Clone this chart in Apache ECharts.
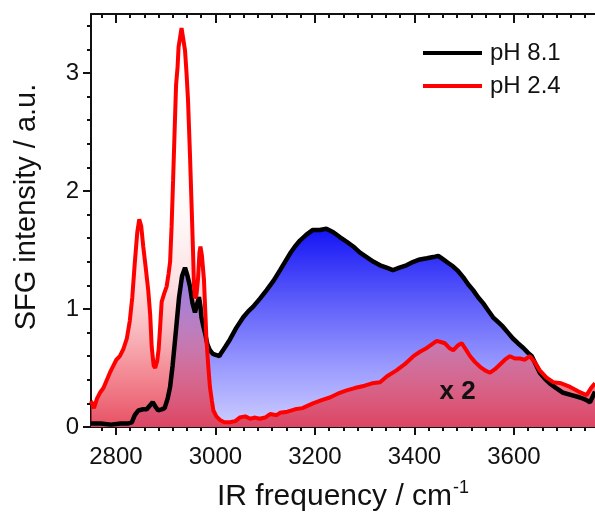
<!DOCTYPE html>
<html>
<head>
<meta charset="utf-8">
<script src="https://cdn.jsdelivr.net/npm/echarts@6/dist/echarts.min.js"></script>
<style>
html,body{margin:0;padding:0;background:#fff;}
#c{width:595px;height:513px;}
</style>
</head>
<body>
<div id="c"></div>
<script>
// ---- data ----
const seriesNames = ['pH 8.1', 'pH 2.4'];
const ph81 = [
[2750,0.03],[2770,0.03],[2790,0.02],[2810,0.03],[2825,0.03],[2832,0.04],[2838,0.10],[2845,0.14],
[2855,0.15],[2862,0.15],[2868,0.18],[2874,0.21],[2880,0.17],[2885,0.14],[2892,0.15],[2898,0.16],
[2904,0.24],[2909,0.34],[2914,0.52],[2919,0.74],[2923,0.92],[2927,1.10],[2933,1.28],[2939,1.35],
[2944,1.28],[2949,1.19],[2954,1.05],[2959,0.97],[2963,1.04],[2967,1.10],[2970,1.02],[2972,0.93],
[2976,0.85],[2979,0.80],[2984,0.70],[2989,0.65],[2995,0.62],[3002,0.61],[3008,0.60],[3012,0.63],
[3020,0.68],[3029,0.74],[3042,0.84],[3056,0.93],[3066,0.98],[3076,1.02],[3090,1.09],[3103,1.16],
[3117,1.24],[3130,1.33],[3140,1.40],[3150,1.47],[3160,1.53],[3170,1.58],[3183,1.63],[3196,1.67],
[3210,1.67],[3223,1.68],[3237,1.65],[3250,1.61],[3264,1.57],[3277,1.53],[3290,1.48],[3304,1.44],
[3318,1.40],[3331,1.37],[3344,1.35],[3357,1.33],[3370,1.35],[3384,1.37],[3398,1.40],[3411,1.42],
[3425,1.43],[3438,1.44],[3448,1.45],[3458,1.42],[3468,1.39],[3478,1.36],[3488,1.32],[3498,1.27],
[3508,1.21],[3518,1.16],[3528,1.10],[3538,1.05],[3548,0.99],[3558,0.93],[3568,0.89],[3578,0.85],
[3588,0.80],[3598,0.75],[3608,0.71],[3619,0.67],[3628,0.63],[3636,0.60],[3644,0.53],[3652,0.46],
[3662,0.41],[3672,0.37],[3685,0.33],[3699,0.29],[3716,0.27],[3733,0.25],[3745,0.23],[3753,0.21],
[3763,0.30]
];
const ph24 = [
[2750,0.22],[2756,0.16],[2762,0.24],[2768,0.29],[2775,0.33],[2782,0.40],[2788,0.46],[2795,0.52],
[2801,0.57],[2808,0.60],[2815,0.66],[2822,0.75],[2828,0.90],[2833,1.10],[2838,1.39],[2843,1.65],
[2847,1.76],[2851,1.70],[2855,1.53],[2860,1.35],[2865,1.16],[2869,0.95],[2872,0.68],[2876,0.52],
[2879,0.50],[2883,0.56],[2886,0.66],[2889,0.85],[2892,1.06],[2897,1.13],[2902,1.19],[2906,1.30],
[2909,1.40],[2912,1.70],[2915,2.09],[2918,2.50],[2921,2.90],[2924,3.05],[2926,3.22],[2929,3.30],
[2932,3.38],[2935,3.30],[2939,3.19],[2942,3.00],[2945,2.77],[2949,2.30],[2952,1.90],[2955,1.50],
[2957,1.20],[2959,1.09],[2962,1.12],[2965,1.25],[2968,1.48],[2970,1.53],[2973,1.45],[2977,1.25],
[2980,0.95],[2982,0.74],[2986,0.50],[2989,0.34],[2993,0.22],[2996,0.14],[3002,0.09],[3009,0.06],
[3018,0.04],[3029,0.04],[3040,0.05],[3049,0.08],[3060,0.09],[3070,0.07],[3080,0.08],[3089,0.07],
[3100,0.08],[3110,0.11],[3123,0.10],[3130,0.12],[3145,0.13],[3160,0.15],[3175,0.16],[3196,0.20],
[3215,0.23],[3230,0.25],[3250,0.29],[3264,0.31],[3280,0.33],[3300,0.35],[3315,0.37],[3331,0.38],
[3345,0.43],[3364,0.48],[3380,0.53],[3398,0.60],[3412,0.64],[3425,0.67],[3435,0.70],[3445,0.73],
[3453,0.72],[3461,0.71],[3470,0.67],[3478,0.65],[3487,0.69],[3495,0.71],[3503,0.66],[3512,0.60],
[3522,0.55],[3532,0.51],[3542,0.48],[3552,0.46],[3562,0.49],[3572,0.53],[3582,0.57],[3592,0.60],
[3602,0.58],[3612,0.58],[3622,0.57],[3632,0.60],[3642,0.55],[3652,0.48],[3665,0.42],[3679,0.38],
[3695,0.37],[3713,0.34],[3730,0.30],[3746,0.27],[3755,0.33],[3763,0.37]
];
const xTickLabels = [2800, 3000, 3200, 3400, 3600];
const yTickLabels = [0, 1, 2, 3];
const xMinorTicks = [];
for (let k = -1; k <= 33; k++) { if (k % 7 !== 0) xMinorTicks.push(2800 + k * 200 / 7); }
const yMinorTicks = [];
for (let k = 1; k <= 17; k++) { if (k % 5 !== 0) yMinorTicks.push(+(k * 0.2).toFixed(1)); }
const annotation = { text: 'x 2', at: [3487, 0.30] };

// ---- chart ----
const FONT = '"Liberation Sans", Arial, sans-serif';
const INK = '#111';
const chart = echarts.init(document.getElementById('c'), null, { renderer: 'canvas' });
const gridRect = { left: 91, right: 0, top: 14, bottom: 86, containLabel: false, outerBoundsMode: 'none' };
const XMIN = 2750, XMAX = 3763, YMIN = 0, YMAX = 3.5;
function xAx(gridIndex, position, values, len, inside, opts) {
  return Object.assign({
    type: 'value', gridIndex, position, min: XMIN, max: XMAX,
    splitLine: { show: false },
    axisLine: { show: true, onZero: false, lineStyle: { color: INK, width: 2 } },
    axisTick: { show: true, customValues: values, length: len, inside, lineStyle: { color: INK, width: 2 } },
    axisLabel: { show: false }
  }, opts || {});
}
function yAx(gridIndex, values, len, opts) {
  return Object.assign({
    type: 'value', gridIndex, position: 'left', min: YMIN, max: YMAX,
    splitLine: { show: false },
    axisLine: { show: true, onZero: false, lineStyle: { color: INK, width: 2 } },
    axisTick: { show: true, customValues: values, length: len, inside: false, lineStyle: { color: INK, width: 2 } },
    axisLabel: { show: false }
  }, opts || {});
}

const option = {
  animation: false,
  backgroundColor: '#fff',
  grid: [Object.assign({}, gridRect), Object.assign({}, gridRect)],
  xAxis: [
    xAx(0, 'bottom', xTickLabels, 8, false, {
      axisLabel: { show: true, customValues: xTickLabels, formatter: v => String(v), fontSize: 24, fontFamily: FONT, color: INK, margin: 18 },
      name: '{a|IR frequency / cm}{s|-1}',
      nameLocation: 'middle',
      nameGap: 52,
      nameTextStyle: {
        rich: {
          a: { fontSize: 30, fontFamily: FONT, color: INK, lineHeight: 36 },
          s: { fontSize: 18, fontFamily: FONT, color: INK, verticalAlign: 'top', lineHeight: 36, padding: [0, 0, 0, 1] }
        }
      }
    }),
    xAx(0, 'top', xTickLabels, 9, true),
    xAx(1, 'bottom', xMinorTicks, 4, false, { axisLine: { show: false } }),
    xAx(1, 'top', xMinorTicks, 4, true, { axisLine: { show: false } })
  ],
  yAxis: [
    yAx(0, yTickLabels, 8, {
      axisLabel: { show: true, customValues: yTickLabels, fontSize: 24, fontFamily: FONT, color: INK, margin: 12 },
      name: 'SFG intensity / a.u.',
      nameLocation: 'middle',
      nameGap: 50,
      nameTextStyle: { fontSize: 29, fontFamily: FONT, color: INK, padding: [0, 0, 0, 27] }
    }),
    yAx(1, yMinorTicks, 4, { axisLine: { show: false } })
  ],
  legend: {
    orient: 'vertical',
    left: 423, top: 41, padding: 0,
    itemWidth: 59, itemHeight: 4, itemGap: 9,
    icon: 'rect',
    data: seriesNames,
    textStyle: { fontSize: 24, fontFamily: FONT, color: INK, lineHeight: 24, padding: [0, 0, 0, 3] }
  },
  series: [
    {
      name: seriesNames[0], type: 'line', xAxisIndex: 0, yAxisIndex: 0,
      data: ph81, showSymbol: false, symbol: 'none', smooth: false,
      itemStyle: { color: '#000' },
      lineStyle: { color: '#000', width: 4.5 },
      areaStyle: {
        opacity: 1,
        color: new echarts.graphic.LinearGradient(0, 0, 0, 1, [
          { offset: 0, color: 'rgb(20,20,245)' },
          { offset: 0.35, color: 'rgb(90,90,250)' },
          { offset: 0.7, color: 'rgb(155,155,255)' },
          { offset: 1, color: 'rgb(205,205,255)' }
        ])
      }
    },
    {
      name: seriesNames[1], type: 'line', xAxisIndex: 0, yAxisIndex: 0,
      data: ph24, showSymbol: false, symbol: 'none', smooth: false,
      itemStyle: { color: '#ff0000' },
      lineStyle: { color: '#ff0000', width: 4 },
      areaStyle: {
        opacity: 1,
        color: new echarts.graphic.LinearGradient(0, 0, 0, 1, [
          { offset: 0, color: 'rgba(255,255,255,0)' },
          { offset: 0.45, color: 'rgba(255,240,240,0.3)' },
          { offset: 0.65, color: 'rgba(250,180,185,0.45)' },
          { offset: 0.85, color: 'rgba(238,85,100,0.65)' },
          { offset: 1, color: 'rgba(225,30,55,0.78)' }
        ])
      }
    }
  ]
};
chart.setOption(option);
const p = chart.convertToPixel({ xAxisIndex: 0, yAxisIndex: 0 }, annotation.at);
chart.setOption({
  graphic: [{
    type: 'text', x: p[0], y: p[1], z: 100,
    style: { text: annotation.text, fontSize: 26, fontWeight: 'bold', fontFamily: FONT, fill: INK, align: 'center', verticalAlign: 'middle' }
  }]
});
</script>
</body>
</html>
